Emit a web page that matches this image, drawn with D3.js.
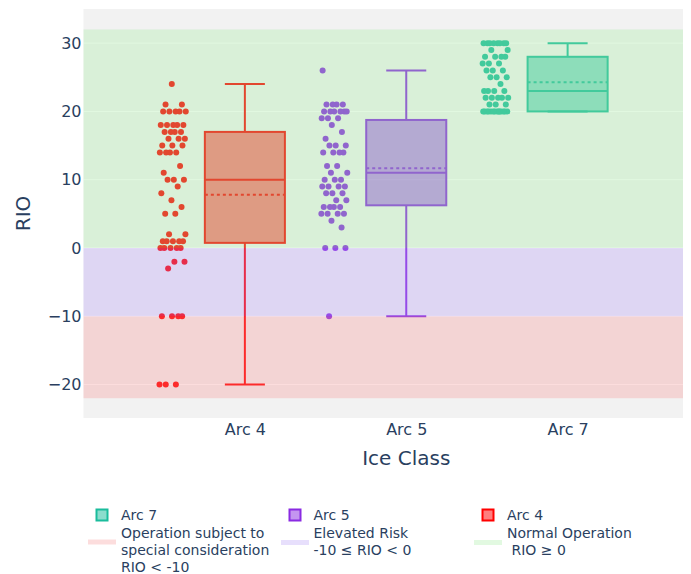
<!DOCTYPE html>
<html>
<head>
<meta charset="utf-8">
<script src="https://cdn.jsdelivr.net/npm/d3@7"></script>
<style>
  body { margin: 0; background: #ffffff; }
  svg text { font-family: "DejaVu Sans", Verdana, sans-serif; fill: #2a3f5f; }
</style>
</head>
<body>
<svg id="chart" width="691" height="574"></svg>
<script>
// Ice classes shown on the x axis
const categories = ["Arc 4", "Arc 5", "Arc 7"];

// RIO observations per ice class
const arc4Values = [
  -20, -20, -20, -10, -10, -10, -10, -3, -2, -2, 0, 0, 0, 0, 0,
  1, 1, 1, 1, 1, 2, 2, 5, 5, 6, 7, 8, 9, 10, 10,
  10, 11, 12, 14, 14, 14, 14, 15, 15, 15, 16, 16, 16, 17, 17,
  17, 17, 18, 18, 18, 18, 18, 20, 20, 20, 20, 20, 21, 21, 24
];
const arc5Values = [
  -10, 0, 0, 0, 3, 4, 5, 5, 5, 5, 6, 6, 6, 6,
  7, 7, 8, 8, 8, 9, 9, 9, 9, 10, 10, 10, 11,
  11, 12, 12, 14, 14, 14, 14, 15, 15, 15, 16, 17, 18,
  19, 19, 19, 20, 20, 20, 20, 20, 20, 21, 21, 21, 21, 26
];
const arc7Values = [
  20, 20, 20, 20, 20, 20, 20, 20, 20, 20, 20, 20, 20, 20,
  21, 21, 21, 22, 22, 22, 22, 22, 23, 23, 23, 23, 24,
  25, 25, 25, 26, 26, 26, 27, 27, 27, 28, 28, 28, 28,
  29, 29, 30, 30, 30, 30, 30, 30, 30, 30
];
const seriesColors = ["#ff0000", "#8a2be2", "#1abc9c"];

// Risk bands (lower bound, upper bound) and their legend labels
const bandNames = ["Operation subject to|special consideration|RIO < -10", "Elevated Risk|-10 ≤ RIO < 0", "Normal Operation| RIO ≥ 0"];
const bandLower = [-22, -10, 0];
const bandUpper = [-10, 0, 32];
const bandColors = ["rgb(245,142,142)", "rgb(175,150,245)", "rgb(158,235,156)"];

// Axis ticks
const yTicks = [-20, -10, 0, 10, 20, 30];
const xTitle = "Ice Class";
const yTitle = "RIO";

const series = [arc4Values, arc5Values, arc7Values];

const svg = d3.select("#chart");
const plot = { left: 83.5, right: 683, top: 9, bottom: 418 };

const x = d3.scaleLinear().domain([-1, 2.715]).range([plot.left, plot.right]);
const y = d3.scaleLinear().domain([-24.9, 35]).range([plot.bottom, plot.top]);

// plot background
svg.append("rect")
  .attr("x", plot.left).attr("y", plot.top)
  .attr("width", plot.right - plot.left).attr("height", plot.bottom - plot.top)
  .attr("fill", "#f2f2f2");

// horizontal grid
svg.append("g").selectAll("line").data(yTicks).join("line")
  .attr("x1", plot.left).attr("x2", plot.right)
  .attr("y1", d => y(d)).attr("y2", d => y(d))
  .attr("stroke", "#ffffff").attr("stroke-width", 1);

const boxHalf = 0.248;      // half box width, category units
const pointShift = -0.447;  // points sit to the left of each box
const jitterHalf = 0.082;

const traces = svg.append("g");
series.forEach((vals, i) => {
  const s = vals.slice().sort(d3.ascending);
  const q1 = d3.quantile(s, 0.25), med = d3.quantile(s, 0.5), q3 = d3.quantile(s, 0.75);
  const mean = d3.mean(s);
  const iqr = q3 - q1;
  const lo = d3.min(s.filter(v => v >= q1 - 1.5 * iqr));
  const hi = d3.max(s.filter(v => v <= q3 + 1.5 * iqr));
  const col = seriesColors[i];
  const g = traces.append("g");
  const x0 = x(i - boxHalf), x1 = x(i + boxHalf), xc = x(i);
  const capHalf = (x1 - x0) / 4;

  // whiskers
  g.append("line").attr("x1", xc).attr("x2", xc).attr("y1", y(q3)).attr("y2", y(hi))
    .attr("stroke", col).attr("stroke-width", 2);
  g.append("line").attr("x1", xc).attr("x2", xc).attr("y1", y(q1)).attr("y2", y(lo))
    .attr("stroke", col).attr("stroke-width", 2);
  g.append("line").attr("x1", xc - capHalf).attr("x2", xc + capHalf).attr("y1", y(hi)).attr("y2", y(hi))
    .attr("stroke", col).attr("stroke-width", 2);
  g.append("line").attr("x1", xc - capHalf).attr("x2", xc + capHalf).attr("y1", y(lo)).attr("y2", y(lo))
    .attr("stroke", col).attr("stroke-width", 2);

  // box
  g.append("rect").attr("x", x0).attr("y", y(q3)).attr("width", x1 - x0).attr("height", y(q1) - y(q3))
    .attr("fill", col).attr("fill-opacity", 0.5).attr("stroke", col).attr("stroke-width", 2);
  g.append("line").attr("x1", x0).attr("x2", x1).attr("y1", y(med)).attr("y2", y(med))
    .attr("stroke", col).attr("stroke-width", 2);
  g.append("line").attr("x1", x0).attr("x2", x1).attr("y1", y(mean)).attr("y2", y(mean))
    .attr("stroke", col).attr("stroke-width", 2).attr("stroke-dasharray", "3,3");

  // all points, spread sideways with a golden-ratio jitter
  g.append("g").selectAll("circle").data(s).join("circle")
    .attr("cx", (d, k) => x(i + pointShift + jitterHalf * 2 * (((k * 0.6180339887 + 0.31 * i) % 1) - 0.5)))
    .attr("cy", d => y(d))
    .attr("r", 3)
    .attr("fill", col);
});

// risk bands, drawn over the data as translucent layers
svg.append("g").selectAll("rect").data(bandLower).join("rect")
  .attr("x", plot.left).attr("width", plot.right - plot.left)
  .attr("y", (d, i) => y(bandUpper[i]))
  .attr("height", (d, i) => y(d) - y(bandUpper[i]))
  .attr("fill", (d, i) => bandColors[i])
  .attr("fill-opacity", 0.3);

// y axis
const yAxis = svg.append("g").attr("transform", `translate(${plot.left},0)`)
  .call(d3.axisLeft(y).tickValues(yTicks).tickSize(0).tickPadding(2));
yAxis.select(".domain").remove();
yAxis.selectAll("text").style("font-size", "16px").attr("fill", "#2a3f5f");

// x axis
const xAxis = svg.append("g").attr("transform", `translate(0,${plot.bottom})`)
  .call(d3.axisBottom(x).tickValues([0, 1, 2]).tickFormat(i => categories[i]).tickSize(0).tickPadding(6));
xAxis.select(".domain").remove();
xAxis.selectAll("text").style("font-size", "16px").attr("fill", "#2a3f5f");

svg.append("text").attr("x", x(1)).attr("y", 465).attr("text-anchor", "middle")
  .style("font-size", "20px").text(xTitle);
svg.append("text").attr("transform", `translate(30,${(plot.top + plot.bottom) / 2}) rotate(-90)`)
  .attr("text-anchor", "middle").style("font-size", "20px").text(yTitle);

// legend
const legendCols = [102, 295, 488];
const legendTextX = [121, 313.5, 507];
const legend = svg.append("g").style("font-size", "14px");
[2, 1, 0].forEach((si, c) => {
  legend.append("rect").attr("x", legendCols[c] - 5.5).attr("y", 509.5).attr("width", 11).attr("height", 11)
    .attr("fill", seriesColors[si]).attr("fill-opacity", 0.5)
    .attr("stroke", seriesColors[si]).attr("stroke-width", 2);
  legend.append("text").attr("x", legendTextX[c]).attr("y", 520).text(categories[si]);
});
bandNames.forEach((name, c) => {
  const lines = name.split("|");
  legend.append("line").attr("x1", legendCols[c] - 14).attr("x2", legendCols[c] + 14)
    .attr("y1", lines.length === 3 ? 542 : 542.5).attr("y2", lines.length === 3 ? 542 : 542.5)
    .attr("stroke", bandColors[c]).attr("stroke-opacity", 0.3).attr("stroke-width", 5);
  const t = legend.append("text").attr("x", legendTextX[c]).attr("y", 538.3).style("white-space", "pre");
  lines.forEach((ln, k) => {
    t.append("tspan").attr("x", legendTextX[c]).attr("y", 538.3 + k * 16.6).text(ln);
  });
});
</script>
</body>
</html>
